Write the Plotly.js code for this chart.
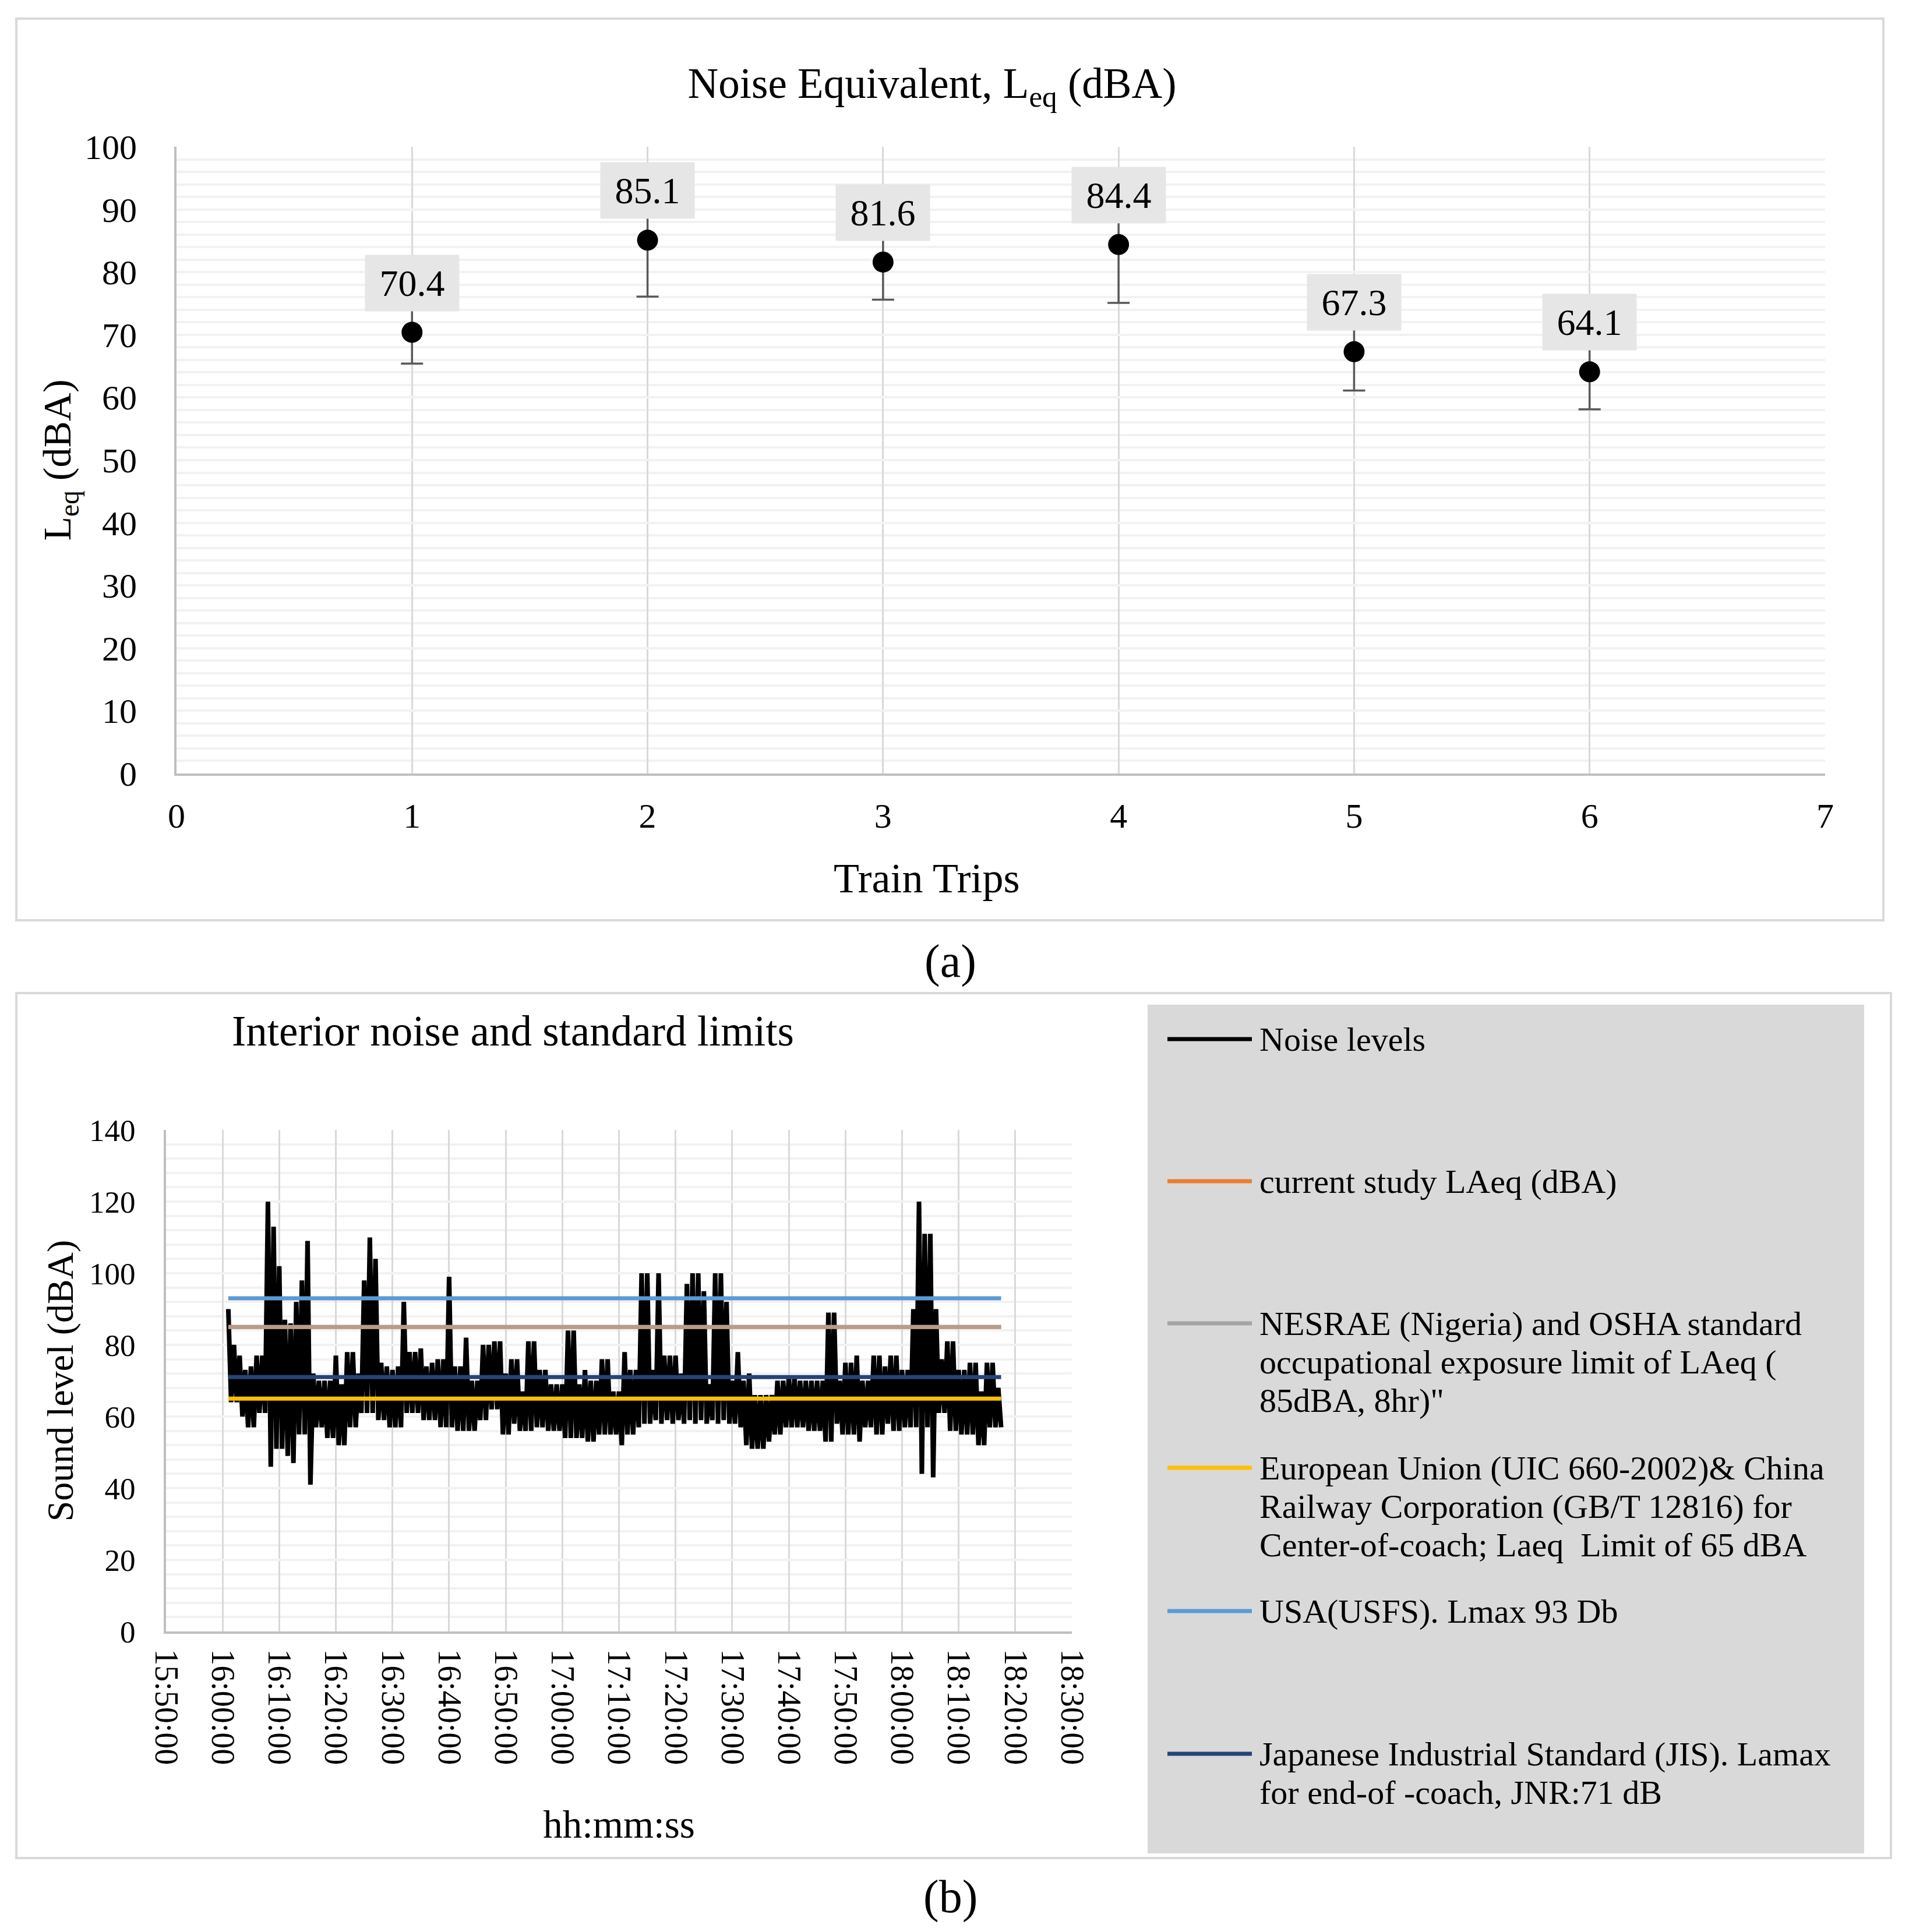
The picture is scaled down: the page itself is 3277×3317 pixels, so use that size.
<!DOCTYPE html>
<html><head><meta charset="utf-8">
<script src="https://cdn.plot.ly/plotly-3.0.1.min.js"></script>
<style>html,body{margin:0;padding:0;background:#fff}</style>
</head><body><div id="chart" style="width:3277px;height:3317px"></div>
<script>
// ---------- Panel (a) data ----------
const trips = [1, 2, 3, 4, 5, 6];
const leq = [70.4, 85.1, 81.6, 84.4, 67.3, 64.1];
const leqErr = [5.0, 9.0, 6.0, 9.3, 6.2, 6.0];

// ---------- Panel (b) data ----------
const noiseDay = '2020-01-01';
const noiseStartMin = 16 * 60 + 1;           // first sample 16:01:00, one high/low pair per minute
const noiseHigh = [90,80,77,73,74,77,77,120,113,102,87,86,92,98,109,72,70,70,70,77,
  69,78,78,72,98,110,104,75,74,73,74,92,78,78,79,74,75,76,76,99,
  74,74,82,70,70,80,80,81,81,72,76,76,67,81,81,73,73,69,69,69,
  84,84,69,73,70,70,76,76,67,67,78,73,73,100,100,73,100,77,77,77,
  72,97,100,100,95,69,100,100,92,70,78,70,72,66,66,66,66,70,70,71,
  71,70,70,70,70,70,89,89,70,75,75,77,70,70,77,77,74,77,77,73,
  73,90,120,111,111,90,76,81,81,73,73,75,75,67,75,75,68];
const noiseLow = [64,64,60,57,57,61,61,46,51,51,49,47,55,55,41,57,57,54,54,52,
  52,57,57,61,61,61,59,59,57,57,57,61,61,61,59,59,59,57,57,57,
  56,56,56,56,59,59,62,62,55,55,58,56,56,56,57,57,56,56,56,54,
  54,54,54,53,53,55,55,55,55,52,55,55,57,58,58,59,58,59,58,59,
  58,59,58,59,58,59,58,59,58,58,57,52,51,51,51,53,55,55,57,57,
  57,57,56,56,56,53,53,58,55,55,55,53,57,57,55,55,58,56,56,57,
  57,57,44,57,43,61,61,56,56,55,55,55,52,52,57,57,57];

const legendNames = [
  'Noise levels',
  'current study LAeq (dBA)',
  'NESRAE (Nigeria) and OSHA standard<br>occupational exposure limit of LAeq (<br>85dBA, 8hr)"',
  'European Union (UIC 660-2002)& China<br>Railway Corporation (GB/T 12816) for<br>Center-of-coach; Laeq  Limit of 65 dBA',
  'USA(USFS). Lmax 93 Db',
  'Japanese Industrial Standard (JIS). Lamax<br>for end-of -coach, JNR:71 dB'
];
const limitValues = [85, 85, 65, 93, 71];   // current study, NESRAE/OSHA, EU/China, USA, JIS
const seriesColors = ['#000000', '#ED7D31', '#A5A5A5', '#FFC000', '#5B9BD5', '#264478'];

const xTicks2 = ['15:50:00','16:00:00','16:10:00','16:20:00','16:30:00','16:40:00','16:50:00','17:00:00',
  '17:10:00','17:20:00','17:30:00','17:40:00','17:50:00','18:00:00','18:10:00','18:20:00','18:30:00'];

// ---------- helpers ----------
const W = 3277, H = 3317;
const px = v => v / W, py = v => 1 - v / H;
const pad = n => String(n).padStart(2, '0');
function stamp(sec) {
  const h = Math.floor(sec / 3600), m = Math.floor((sec % 3600) / 60), s = sec % 60;
  return noiseDay + ' ' + pad(h) + ':' + pad(m) + ':' + pad(s);
}
const FONT = 'Liberation Serif, Times New Roman, serif';

// Noise series: high then low reading within each minute
const noiseX = [], noiseY = [];
for (let i = 0; i < noiseHigh.length; i++) {
  const base = (noiseStartMin + i) * 60;
  noiseX.push(stamp(base)); noiseY.push(noiseHigh[i]);
  noiseX.push(stamp(base + 30)); noiseY.push(noiseLow[i]);
}
const lineX = [noiseX[0], noiseX[noiseX.length - 1]];

const traces = [];
traces.push({
  type: 'scatter', mode: 'markers', x: trips, y: leq, xaxis: 'x', yaxis: 'y',
  marker: {color: '#000000', size: 36},
  error_y: {type: 'data', array: leqErr, visible: true, color: '#595959', thickness: 3.5, width: 19},
  showlegend: false, hoverinfo: 'skip'
});
traces.push({
  type: 'scatter', mode: 'lines', x: noiseX, y: noiseY, xaxis: 'x2', yaxis: 'y2',
  line: {color: seriesColors[0], width: 8, shape: 'linear'}, name: 'Noise levels', showlegend: false
});
const limitOpacity = [1, 0.8, 1, 1, 1];
limitValues.forEach((v, k) => {
  traces.push({
    type: 'scatter', mode: 'lines', x: lineX, y: [v, v], xaxis: 'x2', yaxis: 'y2',
    line: {color: seriesColors[k + 1], width: 7}, opacity: limitOpacity[k],
    name: legendNames[k + 1], showlegend: false
  });
});

// ---------- annotations ----------
const annotations = [];
trips.forEach((t, i) => {
  annotations.push({
    x: t, y: leq[i], xref: 'x', yref: 'y', yshift: 85, showarrow: false,
    xanchor: 'center', yanchor: 'middle',
    text: leq[i].toFixed(1), bgcolor: '#e7e6e6', width: 161, height: 96, borderpad: 0,
    font: {family: FONT, size: 64, color: '#000'}
  });
});
function paperText(text, x, y, size) {
  annotations.push({x: px(x), y: py(y), xref: 'paper', yref: 'paper', showarrow: false,
    xanchor: 'center', yanchor: 'middle', text: text, font: {family: FONT, size: size, color: '#000'}});
}
paperText('Train Trips', 1591, 1508, 72);
paperText('(a)', 1631, 1650, 80);
paperText('(b)', 1631, 3256, 80);
paperText('Interior noise and standard limits', 880, 1770, 73);

// custom legend inside grey box
const shapes = [
  {type: 'rect', xref: 'paper', yref: 'paper', x0: px(28), x1: px(3233), y0: py(1580), y1: py(32),
   line: {color: '#d9d9d9', width: 4}, layer: 'below'},
  {type: 'rect', xref: 'paper', yref: 'paper', x0: px(28), x1: px(3246), y0: py(3190), y1: py(1705),
   line: {color: '#d9d9d9', width: 4}, layer: 'below'},
  {type: 'rect', xref: 'paper', yref: 'paper', x0: px(1970), x1: px(3200), y0: py(3182), y1: py(1725),
   fillcolor: '#d9d9d9', line: {width: 0}, layer: 'below'}
];
const entryY = [1784, 2028, 2272, 2520, 2766, 3011];
const lineGap = 66;
legendNames.forEach((name, k) => {
  shapes.push({type: 'line', xref: 'paper', yref: 'paper', x0: px(2004), x1: px(2149),
    y0: py(entryY[k]), y1: py(entryY[k]), line: {color: seriesColors[k], width: 7}});
  name.split('<br>').forEach((ln, j) => {
    annotations.push({x: px(2160), y: py(entryY[k] + j * lineGap), xref: 'paper', yref: 'paper',
      xanchor: 'left', yanchor: 'middle', showarrow: false, text: ln,
      font: {family: FONT, size: 58, color: '#000'}});
  });
});

const layout = {
  width: W, height: H, margin: {l: 0, r: 0, t: 0, b: 0},
  paper_bgcolor: '#ffffff', plot_bgcolor: '#ffffff',
  font: {family: FONT, color: '#000'},
  showlegend: false,
  title: {text: 'Noise Equivalent, L<sub>eq</sub> (dBA)', x: px(1600), xref: 'paper', xanchor: 'center',
    y: py(142), yref: 'paper', yanchor: 'middle', font: {family: FONT, size: 73, color: '#000'}},
  xaxis: {domain: [px(303), px(3133)], anchor: 'y', range: [0, 7], tick0: 0, dtick: 1,
    showgrid: true, gridcolor: '#d9d9d9', gridwidth: 3, zeroline: false,
    showline: true, linecolor: '#bfbfbf', linewidth: 4, ticks: '', ticklabelstandoff: 17,
    tickfont: {family: FONT, size: 60, color: '#000'}, fixedrange: true},
  yaxis: {domain: [py(1328), py(252)], anchor: 'x', range: [0, 100], dtick: 10,
    showgrid: true, gridcolor: '#f2f2f2', gridwidth: 4,
    minor: {dtick: 2, showgrid: true, gridcolor: '#f2f2f2', gridwidth: 4},
    zeroline: false, showline: true, linecolor: '#bfbfbf', linewidth: 4, ticks: '',
    ticklabelstandoff: 52, tickfont: {family: FONT, size: 60, color: '#000'},
    title: {text: 'L<sub>eq</sub> (dBA)', font: {family: FONT, size: 68, color: '#000'}, standoff: 2},
    fixedrange: true},
  xaxis2: {domain: [px(285), px(1840)], anchor: 'y2', type: 'date',
    range: [noiseDay + ' ' + xTicks2[0], noiseDay + ' ' + xTicks2[xTicks2.length - 1]],
    tickmode: 'array', tickvals: xTicks2.map(t => noiseDay + ' ' + t), ticktext: xTicks2,
    tickangle: 90, showgrid: true, gridcolor: '#d9d9d9', gridwidth: 3, zeroline: false,
    showline: true, linecolor: '#bfbfbf', linewidth: 4, ticks: '', ticklabelstandoff: 15,
    tickfont: {family: FONT, size: 56, color: '#000'},
    title: {text: 'hh:mm:ss', font: {family: FONT, size: 67, color: '#000'}, standoff: 80},
    fixedrange: true},
  yaxis2: {domain: [py(2801), py(1940)], anchor: 'x2', range: [0, 140], dtick: 20,
    showgrid: true, gridcolor: '#f2f2f2', gridwidth: 4,
    minor: {dtick: 4, showgrid: true, gridcolor: '#f2f2f2', gridwidth: 4},
    zeroline: false, showline: true, linecolor: '#bfbfbf', linewidth: 4, ticks: '',
    ticklabelstandoff: 38, tickfont: {family: FONT, size: 53, color: '#000'},
    title: {text: 'Sound level (dBA)', font: {family: FONT, size: 64, color: '#000'}, standoff: 8},
    fixedrange: true},
  annotations: annotations,
  shapes: shapes
};

Plotly.newPlot('chart', traces, layout, {displayModeBar: false, staticPlot: true});
</script></body></html>
